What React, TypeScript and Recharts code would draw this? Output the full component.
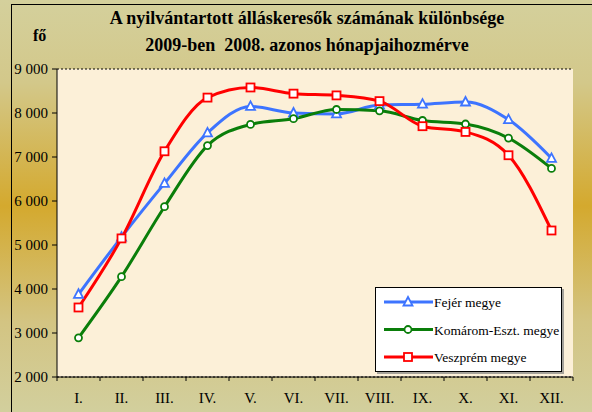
import React from 'react';
import { LineChart, Line, XAxis, YAxis, CartesianGrid } from 'recharts';

const months = ['I.', 'II.', 'III.', 'IV.', 'V.', 'VI.', 'VII.', 'VIII.', 'IX.', 'X.', 'XI.', 'XII.'];
const fejer = [3880, 5180, 6400, 7550, 8150, 8000, 7980, 8180, 8200, 8250, 7850, 6970];
const komarom = [2890, 4280, 5870, 7260, 7740, 7870, 8080, 8050, 7830, 7750, 7430, 6740];
const veszprem = [3580, 5150, 7130, 8350, 8580, 8440, 8400, 8270, 7700, 7570, 7040, 5330];
const yTicks = [2000, 3000, 4000, 5000, 6000, 7000, 8000, 9000];

const seriesNames = ['Fejér megye', 'Komárom-Eszt. megye', 'Veszprém megye'];
const BLUE = '#3d74ff';
const GREEN = '#0a7e0a';
const RED = '#ff0000';

const data = months.map((m, i) => ({ m, fejer: fejer[i], komarom: komarom[i], veszprem: veszprem[i] }));

const serif = "'Liberation Serif', 'Times New Roman', serif";

const Tri = (props: any) => {
  const { cx, cy, stroke } = props;
  if (cx == null || cy == null) return null;
  return <polygon points={`${cx},${cy - 5} ${cx + 4.5},${cy + 3.5} ${cx - 4.5},${cy + 3.5}`} fill="#fff" stroke={stroke} strokeWidth={1.8} />;
};
const Circ = (props: any) => {
  const { cx, cy, stroke } = props;
  if (cx == null || cy == null) return null;
  return <circle cx={cx} cy={cy} r={3.5} fill="#fff" stroke={stroke} strokeWidth={1.8} />;
};
const Sq = (props: any) => {
  const { cx, cy, stroke } = props;
  if (cx == null || cy == null) return null;
  return <rect x={cx - 4} y={cy - 4} width={8} height={8} fill="#fff" stroke={stroke} strokeWidth={1.8} />;
};

const XTick = (props: any) => {
  const { x, y, payload, index, visibleTicksCount } = props;
  const n = visibleTicksCount || 12;
  const half = 516 / n / 2;
  return (
    <g>
      <line x1={x - half} x2={x - half} y1={y} y2={y + 4} stroke="#000" />
      {index === n - 1 ? <line x1={x + half} x2={x + half} y1={y} y2={y + 4} stroke="#000" /> : null}
      <text x={x} y={y + 26} textAnchor="middle" style={{ fontFamily: serif, fontSize: 15 }} fill="#000">
        {payload.value}
      </text>
    </g>
  );
};

const fmt = (v: number) => {
  const s = String(v);
  return s.length > 3 ? s.slice(0, s.length - 3) + ' ' + s.slice(-3) : s;
};

const YTick = (props: any) => {
  const { x, y, payload } = props;
  return (
    <text x={x} y={y + 5} textAnchor="end" style={{ fontFamily: serif, fontSize: 15 }} fill="#000">
      {fmt(payload.value)}
    </text>
  );
};

const LegendBox = () => {
  const colors = [BLUE, GREEN, RED];
  const shapes = ['tri', 'circ', 'sq'];
  return (
    <div
      style={{
        position: 'absolute',
        left: 375,
        top: 287,
        width: 187,
        height: 85,
        background: '#fff',
        border: '1px solid #000',
        boxShadow: '2px 2px 0 #a5a29a',
        boxSizing: 'border-box',
      }}
    >
      <svg width={187} height={85} style={{ position: 'absolute', left: 0, top: 0 }}>
        {seriesNames.map((name, i) => {
          const cy = 14 + i * 27.5;
          const cx = 32;
          return (
            <g key={name}>
              <line x1={8} x2={57} y1={cy} y2={cy} stroke={colors[i]} strokeWidth={3} />
              {shapes[i] === 'tri' ? <Tri cx={cx} cy={cy} stroke={colors[i]} /> : null}
              {shapes[i] === 'circ' ? <Circ cx={cx} cy={cy} stroke={colors[i]} /> : null}
              {shapes[i] === 'sq' ? <Sq cx={cx} cy={cy} stroke={colors[i]} /> : null}
              <text x={58} y={cy + 5} style={{ fontFamily: serif, fontSize: 13.5 }} fill="#000">
                {name}
              </text>
            </g>
          );
        })}
      </svg>
    </div>
  );
};

export default function App() {
  return (
    <div
      style={{
        position: 'absolute',
        left: 0,
        top: 0,
        width: 592,
        height: 412,
        overflow: 'hidden',
        background: 'linear-gradient(to bottom, #d4d09c 0%, #d3c88a 20%, #d4a92e 50%, #d3c482 78%, #d2cf9d 100%)',
      }}
    >
      <div
        style={{
          position: 'absolute',
          left: 11,
          top: 4,
          width: 600,
          height: 430,
          border: '1.5px solid #000',
          boxSizing: 'border-box',
        }}
      />
      <div
        style={{
          position: 'absolute',
          left: 0,
          top: 5,
          width: 614,
          textAlign: 'center',
          fontFamily: serif,
          fontWeight: 'bold',
          fontSize: 18,
          lineHeight: '27px',
          color: '#000',
          whiteSpace: 'nowrap',
        }}
      >
        <div>A nyilvántartott álláskeresők számának különbsége</div>
        <div>2009-ben&nbsp; 2008. azonos hónapjaihozmérve</div>
      </div>
      <div
        style={{
          position: 'absolute',
          left: 33,
          top: 27,
          fontFamily: serif,
          fontWeight: 'bold',
          fontSize: 16,
          color: '#000',
        }}
      >
        fő
      </div>
      <div style={{ position: 'absolute', left: 0, top: 0 }}>
        <LineChart width={592} height={412} data={data} margin={{ top: 69, right: 19, bottom: 0, left: 12 }}>
          <CartesianGrid vertical={false} horizontal={true} fill="#fcf0d8" stroke="#000" strokeDasharray="2 2" />
          <XAxis
            dataKey="m"
            scale="band"
            tickLine={false}
            tickSize={0}
            tickMargin={0}
            axisLine={{ stroke: '#000' }}
            tick={<XTick />}
            interval={0}
            height={35}
          />
          <YAxis
            yAxisId="left"
            domain={[2000, 9000]}
            ticks={yTicks}
            width={45}
            tickSize={5}
            tickMargin={4}
            axisLine={{ stroke: '#000' }}
            tickLine={{ stroke: '#000' }}
            tick={<YTick />}
            allowDataOverflow
          />
          <YAxis
            yAxisId="right"
            orientation="right"
            domain={[2000, 9000]}
            width={0}
            tick={false}
            tickLine={false}
            axisLine={{ stroke: '#8a8a80', strokeWidth: 1.5 }}
          />
          <Line
            yAxisId="left"
            type="monotone"
            dataKey="fejer"
            name={seriesNames[0]}
            stroke={BLUE}
            strokeWidth={3}
            dot={<Tri />}
            activeDot={false}
            isAnimationActive={false}
          />
          <Line
            yAxisId="left"
            type="monotone"
            dataKey="komarom"
            name={seriesNames[1]}
            stroke={GREEN}
            strokeWidth={3}
            dot={<Circ />}
            activeDot={false}
            isAnimationActive={false}
          />
          <Line
            yAxisId="left"
            type="monotone"
            dataKey="veszprem"
            name={seriesNames[2]}
            stroke={RED}
            strokeWidth={3}
            dot={<Sq />}
            activeDot={false}
            isAnimationActive={false}
          />
        </LineChart>
      </div>
      <LegendBox />
    </div>
  );
}
